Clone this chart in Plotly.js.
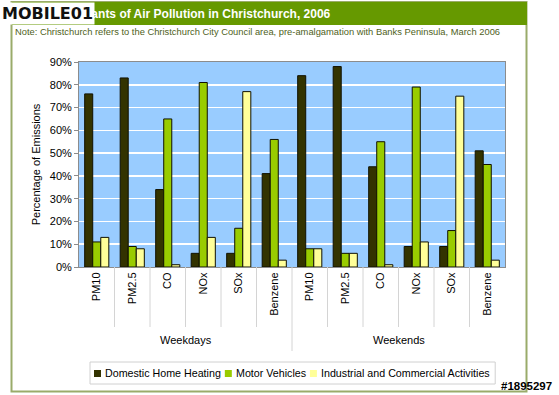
<!DOCTYPE html>
<html>
<head>
<meta charset="utf-8">
<script src="https://cdn.plot.ly/plotly-3.0.1.min.js"></script>
<style>
  html, body { margin: 0; padding: 0; background: #ffffff; }
  #chart { width: 559px; height: 395px; }
</style>
</head>
<body>
<div id="chart"></div>
<script>
// ---- data ----
const pollutants = ["PM10", "PM2.5", "CO", "NOx", "SOx", "Benzene"];
const groups = ["Weekdays", "Weekends"];
const seriesNames = ["Domestic Home Heating", "Motor Vehicles", "Industrial and Commercial Activities"];
const domesticWeekdays = [76, 83, 34, 6, 6, 41];
const domesticWeekends = [84, 88, 44, 9, 9, 51];
const motorWeekdays = [11, 9, 65, 81, 17, 56];
const motorWeekends = [8, 6, 55, 79, 16, 45];
const industrialWeekdays = [13, 8, 1, 13, 77, 3];
const industrialWeekends = [8, 6, 1, 11, 75, 3];
const yTickVals = [0, 10, 20, 30, 40, 50, 60, 70, 80, 90];
const titleText = "Sources and Determinants of Air Pollution in Christchurch, 2006";
const noteText = "Note: Christchurch refers to the Christchurch City Council area, pre-amalgamation with Banks Peninsula, March 2006";

// ---- build ----
const nCat = pollutants.length * groups.length;
const xIdx = [];
const tickText = [];
groups.forEach((g, gi) => pollutants.forEach((p, pi) => { xIdx.push(gi * pollutants.length + pi); tickText.push(p); }));
const yTickText = yTickVals.map(v => v + "%");

const seriesValues = [
  domesticWeekdays.concat(domesticWeekends),
  motorWeekdays.concat(motorWeekends),
  industrialWeekdays.concat(industrialWeekends)
];
const colors = ["#333300", "#99cc00", "#ffff99"];

const traces = seriesNames.map((name, i) => ({
  type: "bar",
  name: name,
  x: xIdx,
  y: seriesValues[i],
  marker: { color: colors[i], line: { color: "#111100", width: 1 } },
  showlegend: false
}));

// plot area in pixels
const W = 559, H = 395;
const L = 79, R = 505, T = 62, B = 267;
const px = v => (v - L) / (R - L);
const py = v => (B - v) / (B - T);
const cnv = document.createElement("canvas").getContext("2d");
const measure = (txt, font) => { cnv.font = font; return cnv.measureText(txt).width; };

const shapes = [];
const annotations = [];
// outer frame
shapes.push({ type: "rect", xref: "paper", yref: "paper", x0: px(11.5), x1: px(526.5), y0: py(391.5), y1: py(2), line: { color: "#9aab6a", width: 2 }, layer: "below" });
// header band
shapes.push({ type: "rect", xref: "paper", yref: "paper", x0: px(12), x1: px(527), y0: py(25), y1: py(2), fillcolor: "#669900", line: { width: 0 }, layer: "below" });
// category dividers
for (let i = 0; i < nCat - 1; i++) {
  const isGroup = (i + 1) % pollutants.length === 0;
  shapes.push({ type: "line", xref: "x", yref: "paper", x0: i + 0.5, x1: i + 0.5, y0: 0, y1: py(isGroup ? 351 : 327), line: { color: "#d4d4d4", width: 1 } });
}

annotations.push({ xref: "paper", yref: "paper", x: px(333), y: py(14), xanchor: "right", yanchor: "middle", text: "<b>" + titleText + "</b>", showarrow: false, font: { family: "Liberation Sans, Arial", size: 12, color: "#ffffff" } });
annotations.push({ xref: "paper", yref: "paper", x: px(13), y: py(32), xanchor: "left", yanchor: "middle", text: noteText, showarrow: false, font: { family: "Liberation Sans, Arial", size: 9.35, color: "#4f5f1c" } });
groups.forEach((g, gi) => {
  annotations.push({ xref: "x", yref: "paper", x: gi * pollutants.length + (pollutants.length - 1) / 2, y: py(340), xanchor: "center", yanchor: "middle", text: g, showarrow: false, font: { family: "Liberation Sans, Arial", size: 11, color: "#000000" } });
});

// custom legend (horizontal, compact like the original)
const legSize = 10.7;
const legFont = legSize + "px 'Liberation Sans'";
const boxX0 = 90, boxY0 = 362, boxY1 = 384, legY = 373;
let cx = boxX0 + 4;
const legShapes = [];
seriesNames.forEach((name, i) => {
  legShapes.push({ type: "rect", xref: "paper", yref: "paper", x0: px(cx), x1: px(cx + 7), y0: py(legY + 4), y1: py(legY - 3), fillcolor: colors[i], line: { color: colors[i], width: 0 } });
  cx += 10;
  annotations.push({ xref: "paper", yref: "paper", x: px(cx), y: py(legY), xanchor: "left", yanchor: "middle", text: name, showarrow: false, font: { family: "Liberation Sans, Arial", size: legSize, color: "#000000" }, borderpad: 0 });
  cx += measure(name, legFont) + 5;
});
shapes.push({ type: "rect", xref: "paper", yref: "paper", x0: px(boxX0), x1: px(cx + 1), y0: py(boxY1), y1: py(boxY0), fillcolor: "#ffffff", line: { color: "#d0d0d0", width: 1 } });
legShapes.forEach(s => shapes.push(s));

// watermarks
annotations.push({ xref: "paper", yref: "paper", x: px(0), y: py(13), xanchor: "left", yanchor: "middle", text: "<b>MOBILE01</b>", showarrow: false, bgcolor: "#ffffff", borderpad: 1, font: { family: "DejaVu Sans, Arial", size: 16, color: "#111111" } });
annotations.push({ xref: "paper", yref: "paper", x: px(554), y: py(386), xanchor: "right", yanchor: "middle", text: "<b>#1895297</b>", showarrow: false, font: { family: "Liberation Sans, Arial", size: 11.5, color: "#000000" } });

const layout = {
  width: W, height: H,
  margin: { l: L, r: W - R, t: T, b: H - B, pad: 0, autoexpand: false },
  paper_bgcolor: "#ffffff",
  plot_bgcolor: "#99ccff",
  barmode: "group",
  bargap: 0.32,
  bargroupgap: 0,
  showlegend: false,
  xaxis: {
    type: "linear", range: [-0.5, nCat - 0.5], automargin: false,
    tickmode: "array", tickvals: xIdx, ticktext: tickText, tickangle: -90,
    tickfont: { family: "Liberation Sans, Arial", size: 11, color: "#000000" },
    showgrid: false, zeroline: false, ticks: "",
    showline: true, linecolor: "#8c8c8c", linewidth: 1, mirror: true
  },
  yaxis: {
    range: [0, 90], automargin: false, tickmode: "array", tickvals: yTickVals, ticktext: yTickText,
    tickfont: { family: "Liberation Sans, Arial", size: 11, color: "#000000" },
    showgrid: true, gridcolor: "#ffffff", gridwidth: 1.5, zeroline: false,
    ticks: "outside", ticklen: 4, tickcolor: "#8c8c8c",
    showline: true, linecolor: "#8c8c8c", linewidth: 1, mirror: true,
    title: { text: "Percentage of Emissions", font: { family: "Liberation Sans, Arial", size: 11, color: "#000000" }, standoff: 6 }
  },
  shapes: shapes,
  annotations: annotations
};

Plotly.newPlot("chart", traces, layout, { displayModeBar: false, staticPlot: true });
</script>
</body>
</html>
